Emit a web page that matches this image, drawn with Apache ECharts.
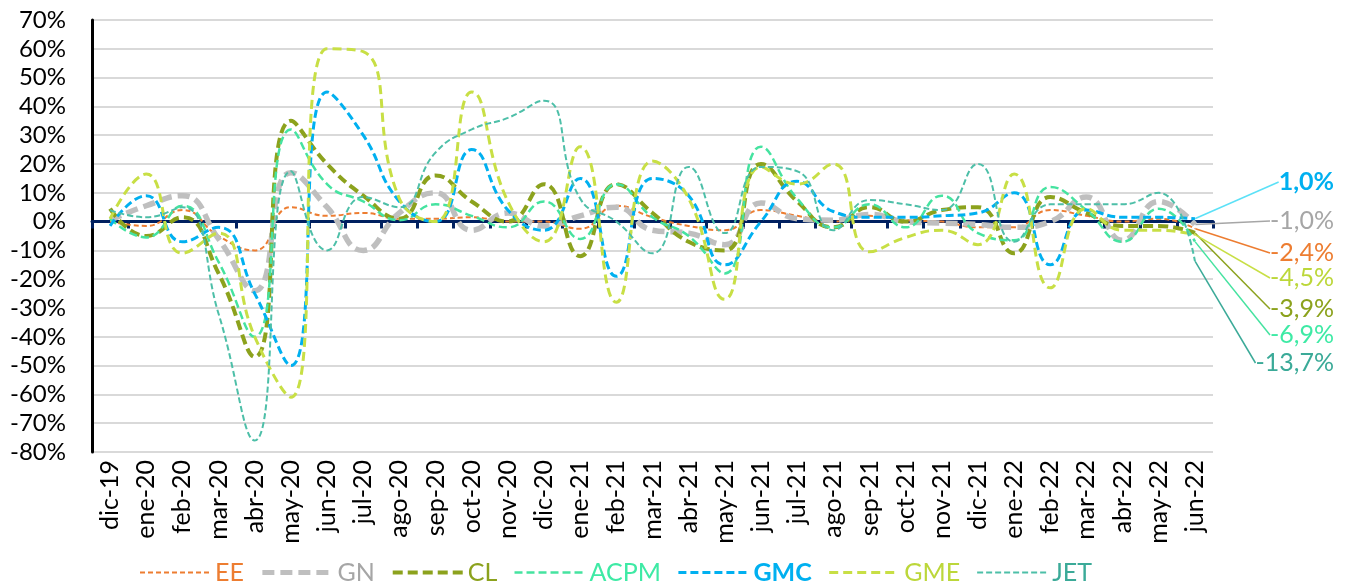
<!DOCTYPE html>
<html>
<head>
<meta charset="utf-8">
<script src="https://cdn.jsdelivr.net/npm/echarts@6/dist/echarts.min.js"></script>
<style>
html,body{margin:0;padding:0;background:#fff;}
#c{width:1350px;height:585px;}
</style>
</head>
<body>
<div id="c"></div>
<script>
// ---- data (percent values) ----
const categories = ['dic-19','ene-20','feb-20','mar-20','abr-20','may-20','jun-20','jul-20','ago-20','sep-20','oct-20','nov-20','dic-20','ene-21','feb-21','mar-21','abr-21','may-21','jun-21','jul-21','ago-21','sep-21','oct-21','nov-21','dic-21','ene-22','feb-22','mar-22','abr-22','may-22','jun-22'];
const EE   = [0, -1.5, 4, -5, -10, 5, 2, 3, 1, 1, 1.5, 0, 0, -2.5, 5.5, 1.5, -1.5, -3, 4, 2, 0, 2, 0.5, 0, -2, -2, 4, 2, 0, 1, -2.4];
const GN   = [0.5, 5.5, 9, -6, -24, 17, 5, -10, 3, 10, -3, 3, -1.5, 2, 5, -3, -4, -8, 6.5, 1, 0.5, 2.5, 0, -0.5, -1, -2, 0, 8.5, -6.5, 7, -1.0];
const CL   = [4.5, -5, 1.5, -18, -47, 35, 20, 9, 1, 16, 7, 0, 13, -12, 13, 3, -7, -10, 20, 7, -2, 5, 0, 4, 5, -11, 8.5, 3, -1.5, -1.5, -3.9];
const ACPM = [1, -5.5, 5.5, -14, -40, 32, 13, 7, 0.5, 6, 2, -2, 7, -6, 13, 1.5, -5, -18, 26, 8, -2, 6, -2, 9, -4, -6.5, 12, 4, -7, 4.5, -6.9];
const GMC  = [-1.5, 9, -7, -2, -25, -50, 45, 30, 7, 0, 25, 4, -3, 15, -19, 15, 9, -15, 0, 14, 3.5, 1.5, 1.5, 2, 3, 10, -15, 4, 1.5, 1.5, 1.0];
const GME  = [1, 16.5, -11, -4, -40, -61, 60, 59, 8, 0, 45, 7, -7, 26, -28, 21, 8, -27, 19, 13, 20, -10.5, -5.5, -3, -8, 16.5, -23, 4.5, -3, -3, -4.5];
const JET  = [4, 1.5, 5, -32, -76, 17.5, -10, 8.5, 5, 24, 32, 36, 42, 8, 0, -11, 19, -4, 19, 17.5, -3, 7.5, 6, 4, 20, -7, 6, 6, 6, 10, -13.7];
const seriesNames = ['EE','GN','CL','ACPM','GMC','GME','JET'];
const seriesValues = [EE, GN, CL, ACPM, GMC, GME, JET];
const yTicks = {min: -80, max: 70, interval: 10};

// ---- styles ----
const FONT = 'Lato';
const styles = {
  EE:   {color:'#ED7D31', width:2,   dash:[5,3],  text:'#ED7D31', leader:'#ED7D31', labelY:253},
  GN:   {color:'#BFBFBF', width:5.5, dash:[12,6], text:'#A6A6A6', leader:'#A6A6A6', labelY:221},
  CL:   {color:'#8CA21D', width:4,   dash:[10,5], text:'#8CA21D', leader:'#8CA21D', labelY:309},
  ACPM: {color:'#45E3A0', width:2.5, dash:[8,4],  text:'#3EEAA5', leader:'#45E3A0', labelY:335},
  GMC:  {color:'#00B0F0', width:3,   dash:[8,4],  text:'#00B0F0', leader:'#5CE1F7', labelY:182, bold:true},
  GME:  {color:'#C8DF45', width:3,   dash:[9,5],  text:'#BCD73A', leader:'#C8DF45', labelY:278},
  JET:  {color:'#4DBFA8', width:2,   dash:[6,3],  text:'#3BAA98', leader:'#3BAA98', labelY:363}
};
const LABEL_RIGHT = 1334;

function fmt(v){ return v.toFixed(1).replace('.', ',') + '%'; }

const series = seriesNames.map((name, si) => {
  const st = styles[name];
  const vals = seriesValues[si];
  const last = vals.length - 1;
  const data = vals.map((v, i) => i === last ? {
    value: v, symbol: 'circle', symbolSize: 1,
    label: {
      show: true, formatter: fmt(v), color: st.text,
      fontFamily: FONT, fontSize: 25, fontWeight: st.bold ? 'bold' : 'normal'
    }
  } : v);
  return {
    name, type: 'line', data, smooth: 0.5, symbol: 'none', z: 2 + si,
    lineStyle: {color: st.color, width: st.width, type: st.dash},
    itemStyle: {color: st.color},
    labelLine: {show: true, lineStyle: {color: st.leader, width: 1.5}},
    labelLayout: function (p) {
      const ax = p.rect.x + p.rect.width / 2;
      const ay = p.rect.y + p.rect.height / 2;
      const left = LABEL_RIGHT - p.labelRect.width;
      const ly = st.labelY;
      return {
        x: LABEL_RIGHT, y: ly, align: 'right', verticalAlign: 'middle',
        labelLinePoints: [[ax + 2, ay], [left - 22, ly], [left - 9, ly]]
      };
    },
    emphasis: {disabled: true}
  };
});

const chart = echarts.init(document.getElementById('c'), null, {renderer: 'canvas'});
chart.setOption({
  animation: false,
  backgroundColor: '#fff',
  grid: {left: 92, right: 137, top: 20, bottom: 133, containLabel: false},
  legend: {
    left: 134, top: 555, itemWidth: 70, itemHeight: 14, itemGap: 16,
    itemStyle: {color: 'rgba(0,0,0,0)', borderColor: 'rgba(0,0,0,0)', borderWidth: 0, opacity: 0},
    textStyle: {fontFamily: FONT, fontSize: 25},
    data: seriesNames.map(n => ({
      name: n,
      lineStyle: {width: Math.min(styles[n].width, 5)},
      textStyle: {color: styles[n].text, fontWeight: styles[n].bold ? 'bold' : 'normal'}
    }))
  },
  xAxis: [
    {
      type: 'category', data: categories, boundaryGap: true, position: 'bottom',
      axisLine: {onZero: true, lineStyle: {color: '#002060', width: 3}},
      axisTick: {show: true, length: 7, interval: 0, lineStyle: {color: '#002060', width: 3}},
      axisLabel: {show: false}, splitLine: {show: false}
    },
    {
      type: 'category', data: categories, boundaryGap: true, position: 'bottom',
      axisLine: {show: false, onZero: false}, axisTick: {show: false},
      axisLabel: {rotate: 90, interval: 0, fontFamily: FONT, fontSize: 25, color: '#000', margin: 8},
      splitLine: {show: false}
    }
  ],
  yAxis: {
    type: 'value', min: yTicks.min, max: yTicks.max, interval: yTicks.interval,
    axisLine: {show: true, lineStyle: {color: '#000', width: 3}},
    axisTick: {show: false},
    axisLabel: {formatter: '{value}%', fontFamily: FONT, fontSize: 24, color: '#000', margin: 26},
    splitLine: {lineStyle: {color: '#D9D9D9', width: 2}}
  },
  series
});
</script>
</body>
</html>
